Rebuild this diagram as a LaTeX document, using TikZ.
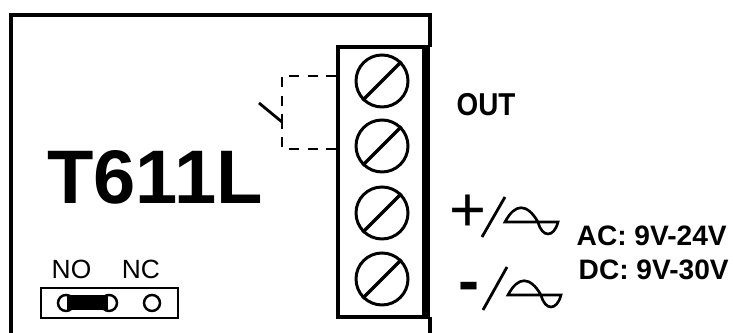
\documentclass[tikz,border=0pt]{standalone}
\usepackage{fontspec}
\setmainfont{Liberation Sans}
\tikzset{
  frameline/.style={line width=1.1pt},
  screwhead/.style={circle, draw, line width=0.85pt, minimum size=0.52cm, inner sep=0pt},
  wavemark/.style={line width=0.75pt},
  slashline/.style={line width=0.8pt},
  relayline/.style={line width=0.8pt, dash pattern=on 0.1cm off 0.085cm},
  jumperline/.style={line width=0.7pt},
  boldtext/.style={inner sep=0pt, font=\bfseries}
}
\newcommand{\screwslot}[1]{\draw[line width=0.95pt] (#1.south west) -- (#1.north east);}
\newcommand{\acwave}[2]{\draw[wavemark] (#1,#2) .. controls (#1+0.10,#2+0.19) and (#1+0.22,#2+0.19) .. (#1+0.33,#2) .. controls (#1+0.37,#2-0.16) and (#1+0.49,#2-0.16) .. (#1+0.53,#2) -- cycle;}

\begin{document}
\begin{tikzpicture}
    \useasboundingbox (0,0) rectangle (7.33,3.33);
    % housing
    \draw[frameline] (0.11,0) -- (0.11,3.18) -- (4.30,3.18) -- (4.30,2.86);
    \draw[frameline] (4.30,0) -- (4.30,0.16);
    % terminal block
    \draw[frameline] (3.38,0.16) rectangle (4.27,2.86);
    \draw[line width=2pt] (4.26,0.16) -- (4.26,2.86);
    \node[screwhead] (screwa) at (3.82,2.52) {};
    \node[screwhead] (screwb) at (3.82,1.87) {};
    \node[screwhead] (screwc) at (3.82,1.20) {};
    \node[screwhead] (screwd) at (3.82,0.54) {};
    \foreach \s in {screwa,screwb,screwc,screwd} {
      \screwslot{\s}
    }
    % relay contact
    \draw[relayline] (3.36,2.57) -- (2.82,2.57) -- (2.82,2.11);
    \draw[relayline] (3.36,1.84) -- (2.82,1.84) -- (2.82,2.11);
    \draw[line width=0.8pt] (2.82,2.11) -- (2.59,2.30);
    % labels
    \node[boldtext, anchor=west, xscale=0.88, font=\bfseries\fontsize{9pt}{11pt}\selectfont] (outlabel) at (4.56,2.28) {OUT};
    \node[boldtext, anchor=center, font=\bfseries\fontsize{21.6pt}{24pt}\selectfont] (modelname) at (1.55,1.56) {T611L};
    \node[anchor=center, inner sep=0pt, font=\fontsize{7.5pt}{9pt}\selectfont] (nolabel) at (0.715,0.635) {NO};
    \node[anchor=center, inner sep=0pt, font=\fontsize{7.5pt}{9pt}\selectfont] (nclabel) at (1.41,0.635) {NC};
    % jumper
    \draw[jumperline] (0.41,0.15) rectangle (1.78,0.45);
    \draw[jumperline] (0.66,0.30) circle (0.08);
    \draw[jumperline] (1.09,0.30) circle (0.08);
    \draw[jumperline] (1.52,0.30) circle (0.08);
    \fill (0.67,0.225) rectangle (1.08,0.375);
    % supply
    \node[anchor=center, inner sep=0pt, font=\fontsize{18pt}{20pt}\selectfont] (plussign) at (4.68,1.20) {+};
    \draw[slashline] (4.82,0.96) -- (5.05,1.36);
    \acwave{5.05}{1.11}
    \node[anchor=center, inner sep=0pt, font=\bfseries\fontsize{18pt}{20pt}\selectfont] (minussign) at (4.69,0.41) {-};
    \draw[slashline] (4.83,0.23) -- (5.07,0.66);
    \acwave{5.08}{0.38}
    \node[boldtext, anchor=west, font=\bfseries\fontsize{8pt}{9pt}\selectfont] (aclabel) at (5.76,0.97) {AC: 9V-24V};
    \node[boldtext, anchor=west, font=\bfseries\fontsize{8pt}{9pt}\selectfont] (dclabel) at (5.78,0.63) {DC: 9V-30V};
  \end{tikzpicture}
\end{document}
